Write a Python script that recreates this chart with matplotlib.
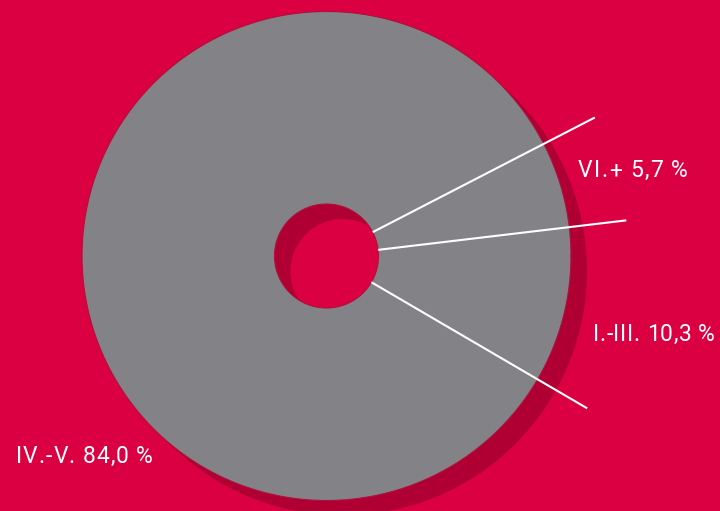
import matplotlib
matplotlib.use("Agg")
import matplotlib.pyplot as plt
from matplotlib.font_manager import FontProperties
import numpy as np

categories = ["VI.+", "I.-III.", "IV.-V."]
values = [5.7, 10.3, 84.0]
labels = ["VI.+ 5,7 %", "I.-III. 10,3 %", "IV.-V. 84,0 %"]

BG = "#DB0041"
GREY = "#838287"
SHADOW = "#B00033"
EDGE = "#B0103A"

W, H = 720, 511
fig = plt.figure(figsize=(7.2, 5.11), dpi=100, facecolor=BG)
ax = fig.add_axes([0, 0, 1, 1])
ax.set_facecolor(BG)

cx, cy = 326.5, H - 256
R = 244.5
r_in = 52
start = 27.3  # degrees, counterclockwise from +x

# shadow donut
ax.pie(values, colors=[SHADOW] * 3, startangle=start, counterclock=False,
       center=(cx + 16, cy - 15), radius=R,
       wedgeprops=dict(width=R - r_in, edgecolor="none", linewidth=0))
# main donut
ax.pie(values, colors=[GREY] * 3, startangle=start, counterclock=False,
       center=(cx, cy), radius=R,
       wedgeprops=dict(width=R - r_in, edgecolor="none", linewidth=0))
# thin outlines
th = np.linspace(0, 2 * np.pi, 720)
ax.plot(cx + R * np.cos(th), cy + R * np.sin(th), color=EDGE, lw=0.8)
ax.plot(cx + r_in * np.cos(th), cy + r_in * np.sin(th), color=EDGE, lw=0.8)

# separator lines at wedge boundaries
bounds = start - 360 * np.cumsum([0] + values[:-1]) / 100.0
for a in bounds:
    t = np.deg2rad(a)
    ax.plot([cx + r_in * np.cos(t), cx + 1.235 * R * np.cos(t)],
            [cy + r_in * np.sin(t), cy + 1.235 * R * np.sin(t)],
            color="white", lw=1.5, solid_capstyle="butt")

ax.set_xlim(0, W)
ax.set_ylim(0, H)
ax.axis("off")

fp = FontProperties(family=["Roboto", "DejaVu Sans"], weight="normal", size=16.5)
renderer = fig.canvas.get_renderer()


def char_w(c):
    if c == " ":
        a = renderer.get_text_width_height_descent("nn", fp, ismath=False)[0]
        b = renderer.get_text_width_height_descent("n n", fp, ismath=False)[0]
        return b - a
    return renderer.get_text_width_height_descent(c, fp, ismath=False)[0]


def tracked(x0, y, s, target_w):
    widths = [char_w(c) for c in s]
    track = (target_w - sum(widths)) / (len(s) - 1)
    x = x0
    for c, w in zip(s, widths):
        ax.text(x, y, c, color="white", fontproperties=fp, va="baseline", ha="left")
        x += w + track


# baselines (image rows 177, 341, 463)
tracked(578, H - 177, labels[0], 110)
tracked(593, H - 341, labels[1], 122)
tracked(16, H - 463, labels[2], 137)

fig.savefig("out.png", dpi=100, facecolor=BG)
